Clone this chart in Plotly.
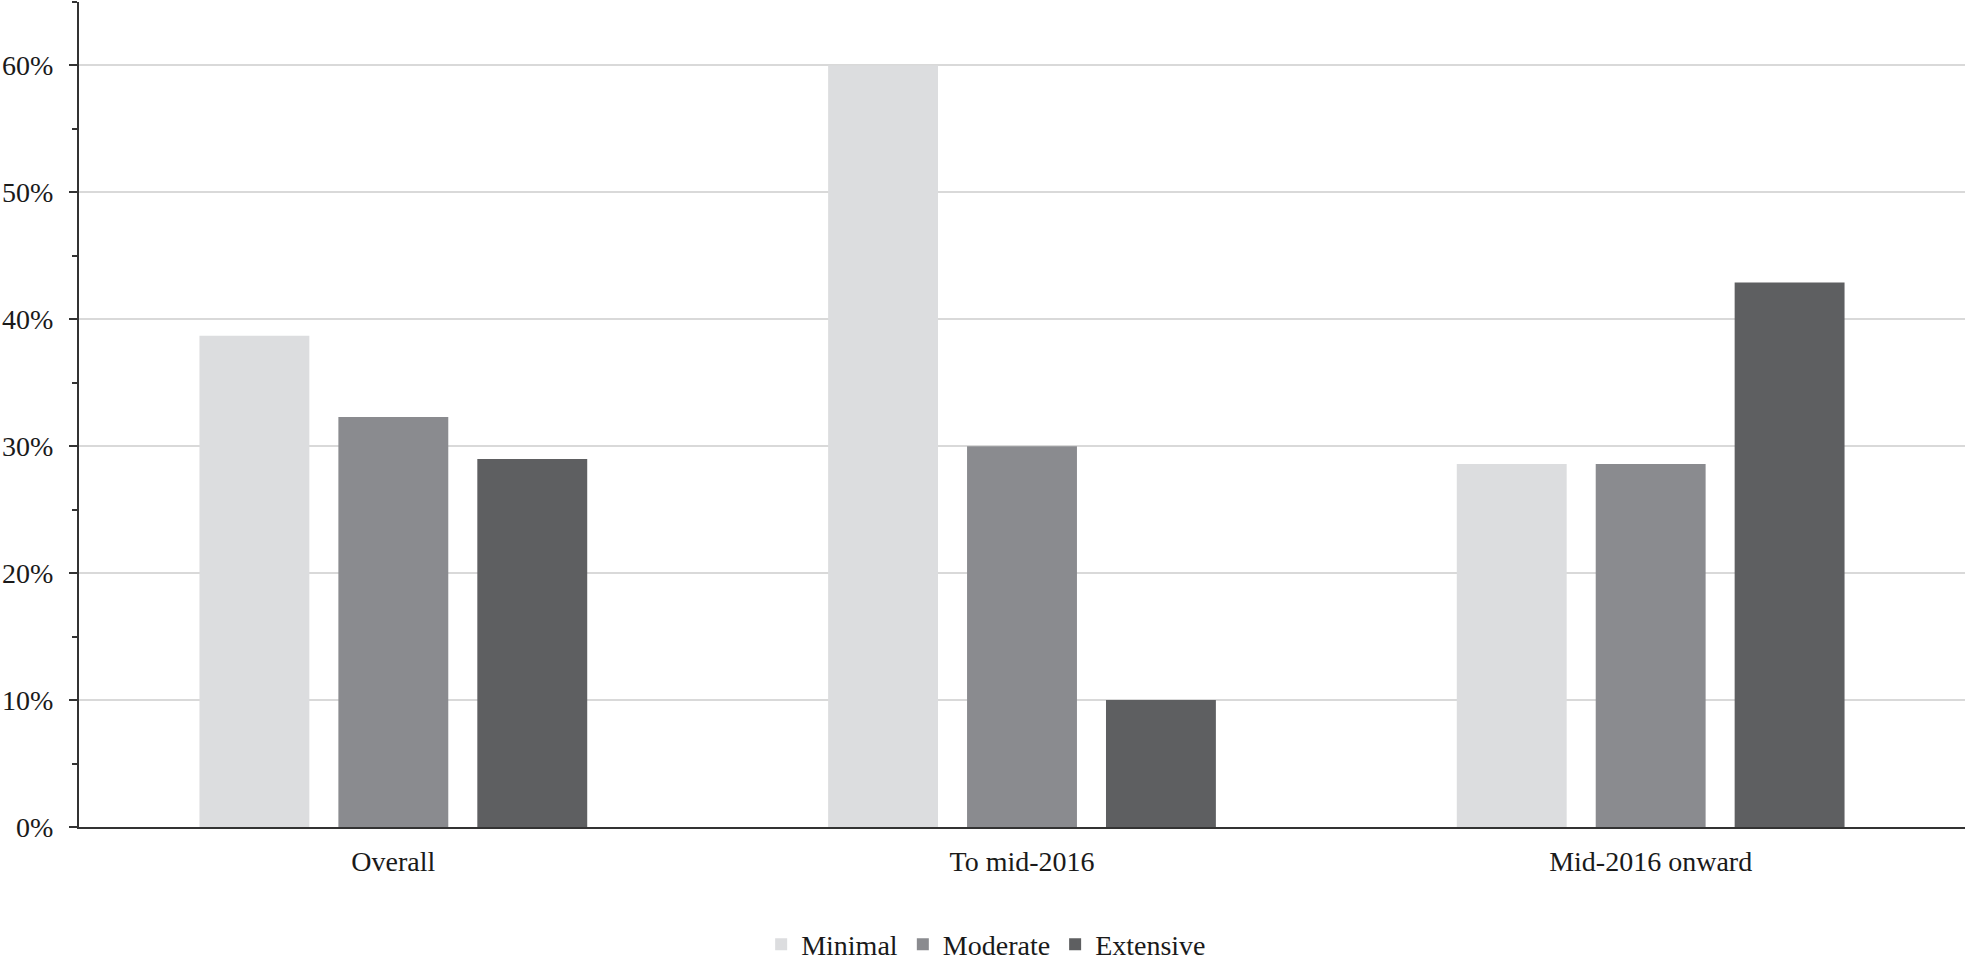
import plotly.graph_objects as go

categories = ["Overall", "To mid-2016", "Mid-2016 onward"]
minimal = [38.7, 60.0, 28.6]
moderate = [32.3, 30.0, 28.6]
extensive = [29.0, 10.0, 42.9]
series_names = ["Minimal", "Moderate", "Extensive"]
series_colors = ["#dcdddf", "#8a8b8f", "#5e5f61"]

FONT = "Liberation Serif"

fig = go.Figure()
for name, vals, col in zip(series_names, [minimal, moderate, extensive], series_colors):
    fig.add_trace(go.Bar(
        name=name, x=categories, y=vals,
        marker=dict(color=col, line=dict(width=0)),
        hoverinfo="skip",
    ))

fig.update_layout(
    width=1968, height=960,
    margin=dict(l=77, r=3, t=2, b=133),
    paper_bgcolor="white", plot_bgcolor="white",
    barmode="group", bargap=0.337, bargroupgap=0.209,
    font=dict(family=FONT, size=28, color="#1a1a1a"),
    showlegend=True,
    legend=dict(
        orientation="h", xanchor="center", x=0.481,
        yref="container", yanchor="middle", y=0.016,
        font=dict(family=FONT, size=28, color="#1a1a1a"),
        itemwidth=30, traceorder="normal",
    ),
)

fig.update_xaxes(
    showline=True, linecolor="#333333", linewidth=2,
    ticks="", showgrid=False, ticklabelstandoff=8,
    tickfont=dict(family=FONT, size=28, color="#1a1a1a"),
)
fig.update_yaxes(
    range=[0, 65], dtick=10, tick0=0, ticksuffix="%",
    showline=True, linecolor="#333333", linewidth=2,
    ticks="outside", ticklen=8, tickwidth=2, tickcolor="#333333",
    showgrid=True, gridcolor="#d9d9d9", gridwidth=2,
    zeroline=False, ticklabelstandoff=10,
    minor=dict(dtick=5, ticks="outside", ticklen=5, tickwidth=2,
               tickcolor="#333333", showgrid=False),
    tickfont=dict(family=FONT, size=28, color="#1a1a1a"),
)

fig.write_html(
    "out.html",
    config={"displayModeBar": False},
    post_script="document.body.style.margin='0';document.body.style.padding='0';document.body.style.overflow='hidden';",
)
